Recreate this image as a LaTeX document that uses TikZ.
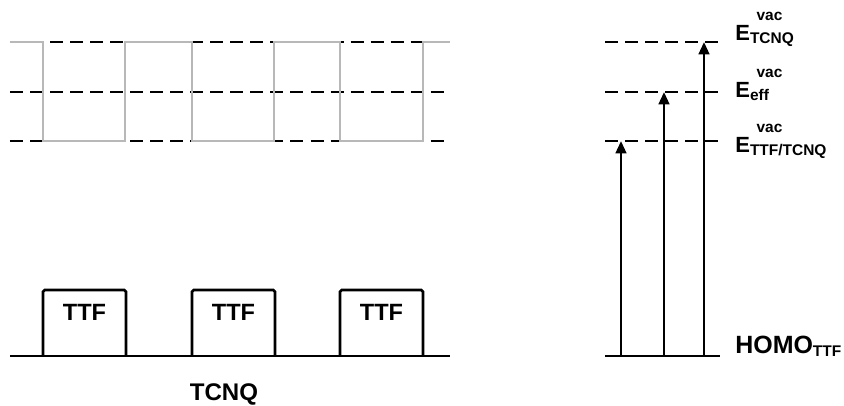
\documentclass[tikz,border=0pt]{standalone}
\usepackage{fontspec}
\setmainfont{Liberation Sans}
\usetikzlibrary{arrows.meta}

% energy label with vac superscript and subscript
\newcommand{\evac}[1]{E\rlap{\hspace{0.3em}\raisebox{0.9em}{\fontsize{8.8}{10}\selectfont vac}}%
  \raisebox{-0.14em}{\fontsize{8.8}{10}\selectfont #1}}

\begin{document}
\begin{tikzpicture}[>=Stealth,
  level/.style={line width=1.3pt, dash pattern=on 7.4pt off 4pt},
  solidline/.style={line width=1.5pt},
  elabel/.style={font=\fontsize{12.5}{14}\selectfont\bfseries, anchor=base west, inner sep=0pt},
  ttfbox/.style={font=\fontsize{13.4}{15}\selectfont\bfseries, anchor=base, inner sep=0pt}]

\useasboundingbox (0, 0) rectangle (16.88, 8.1);

% --- Vacuum levels (dashed, drawn FIRST so gray surface lies on top) ---
\foreach \y in {7.26, 6.26, 5.28} {
  \draw[level] (0.2, \y) -- (9.0, \y);
  \draw[level] (12.1, \y) -- (14.4, \y);
}

% --- Local vacuum level over the surface ---
\draw[line width=1.7pt, black!28]
  (0.2, 7.26) -- (0.86, 7.26) -- (0.86, 5.28) -- (2.5, 5.28) -- (2.5, 7.26)
  -- (3.84, 7.26) -- (3.84, 5.28) -- (5.48, 5.28) -- (5.48, 7.26)
  -- (6.8, 7.26) -- (6.8, 5.28) -- (8.46, 5.28) -- (8.46, 7.26) -- (9.0, 7.26);

% --- TCNQ surface with TTF islands ---
\draw[solidline] (0.2, 0.98) -- (9.0, 0.98);
\foreach \x/\name in {0.86/a, 3.84/b, 6.8/c} {
  \draw[solidline, rounded corners=1pt] (\x, 0.98) -- (\x, 2.3) -- (\x+1.66, 2.3) -- (\x+1.66, 0.98);
  \node[ttfbox] (ttf-\name) at (\x+0.83, 1.7) {TTF};
}
\node[font=\fontsize{13.7}{15}\selectfont\bfseries, anchor=base, inner sep=0pt]
  (tcnq) at (4.48, 0.1) {TCNQ};

% --- Energy diagram ---
\draw[solidline] (12.1, 0.98) -- (14.4, 0.98);
\coordinate (h1) at (12.42, 0.98);
\coordinate (h2) at (13.28, 0.98);
\coordinate (h3) at (14.08, 0.98);
\coordinate (e1) at (12.42, 5.28);
\coordinate (e2) at (13.28, 6.26);
\coordinate (e3) at (14.08, 7.26);
\foreach \i in {1, 2, 3} {
  \draw[solidline, -{Triangle[length=7pt, width=6pt]}] (h\i) -- (e\i);
}

% --- Labels ---
\node[elabel] (etcnq) at (14.7, 7.3) {\evac{TCNQ}};
\node[elabel] (eeff) at (14.7, 6.16) {\evac{eff}};
\node[elabel] (ett) at (14.7, 5.06) {\evac{TTF/TCNQ}};
\node[elabel, font=\fontsize{14.2}{16}\selectfont\bfseries] (homo) at (14.7, 1.04)
  {HOMO\raisebox{-0.14em}{\fontsize{8.8}{10}\selectfont TTF}};

\end{tikzpicture}
\end{document}
